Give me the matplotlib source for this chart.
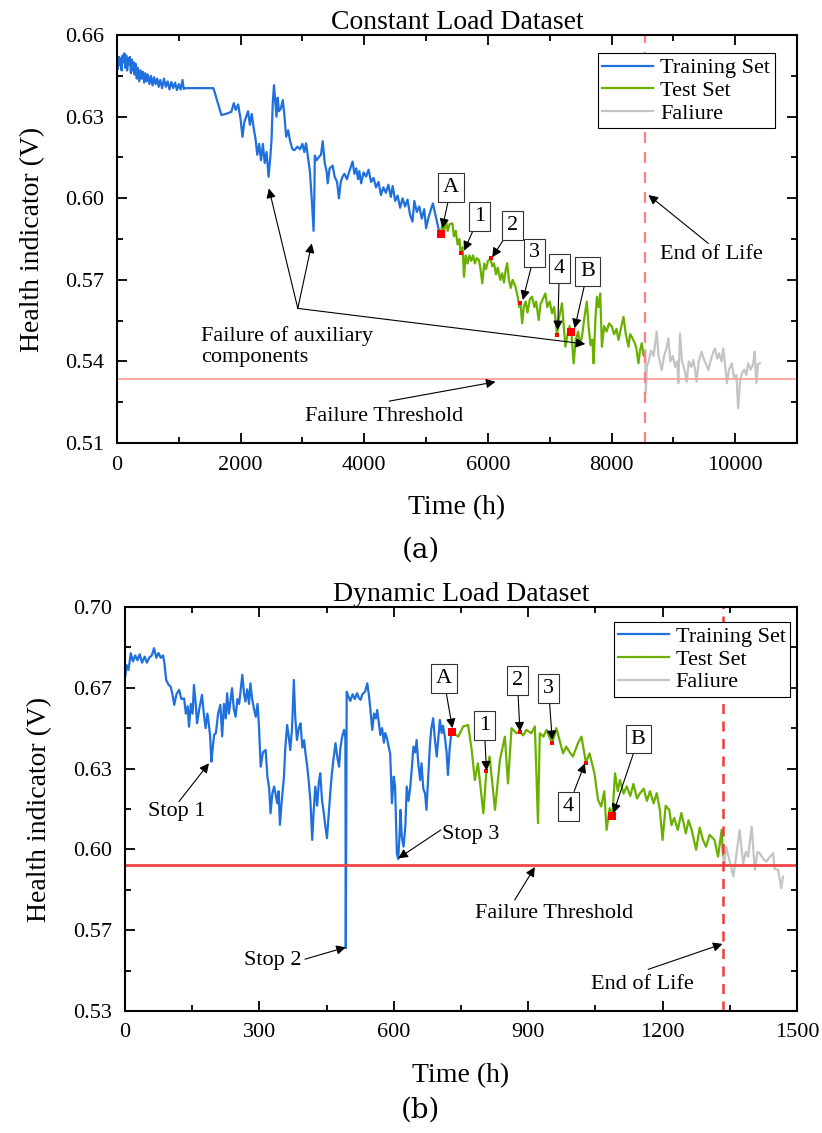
import numpy as np
import matplotlib.pyplot as plt
from matplotlib.ticker import MultipleLocator, FormatStrFormatter

plt.rcParams['font.family'] = ['Liberation Serif', 'DejaVu Serif']

# ---- constant load dataset (time h, health indicator V)
a_train = [(0, .6505), (15, .6475), (30, .6520), (45, .6490), (60, .6515), (75, .6470), (90, .6525),
           (105, .6500), (120, .6533), (135, .6480), (150, .6525), (165, .6470), (180, .6515), (195, .6490),
           (210, .6520), (225, .6460), (240, .6510), (255, .6470), (270, .6500), (285, .6455), (300, .6495),
           (320, .6440), (340, .6480), (360, .6430), (380, .6470), (400, .6440), (420, .6465), (440, .6425),
           (460, .6460), (480, .6430), (500, .6455), (525, .6420), (550, .6450), (575, .6415), (600, .6445),
           (625, .6420), (650, .6440), (675, .6410), (700, .6435), (730, .6405), (760, .6440), (790, .6410),
           (820, .6430), (850, .6400), (880, .6428), (910, .6405), (940, .6425), (970, .6398), (1000, .6420),
           (1030, .6400), (1060, .6435), (1080, .6402), (1100, .6405), (1560, .6405), (1690, .6306),
           (1760, .6310), (1850, .6318), (1890, .6350), (1920, .6325), (1960, .6345), (2000, .6290),
           (2030, .6226), (2060, .6280), (2090, .6300), (2120, .6320), (2150, .6270), (2180, .6310),
           (2210, .6260), (2240, .6220), (2270, .6160), (2300, .6200), (2330, .6140), (2360, .6200),
           (2390, .6130), (2420, .6170), (2452, .6079), (2480, .6150), (2500, .6214), (2520, .6350),
           (2540, .6416), (2560, .6360), (2580, .6300), (2600, .6370), (2620, .6320), (2650, .6330),
           (2683, .6361), (2710, .6300), (2737, .6226), (2770, .6250), (2800, .6210), (2840, .6180),
           (2871, .6177), (2920, .6190), (2960, .6180), (3000, .6200), (3030, .6170), (3059, .6202),
           (3086, .6157), (3120, .6100), (3150, .6000), (3180, .5880), (3192, .6000), (3200, .6157),
           (3230, .6140), (3260, .6150), (3300, .6160), (3328, .6210), (3360, .6130), (3390, .6100),
           (3409, .6055), (3440, .6110), (3489, .6120), (3520, .6080), (3560, .6060), (3590, .6000),
           (3620, .6060), (3650, .6080), (3680, .6090), (3720, .6070), (3760, .6100), (3812, .6135),
           (3840, .6090), (3870, .6110), (3900, .6070), (3920, .6100), (3950, .6055), (3990, .6095),
           (4030, .6080), (4070, .6105), (4110, .6060), (4150, .6075), (4190, .6040), (4230, .6060),
           (4270, .6012), (4310, .6040), (4350, .6020), (4390, .6050), (4430, .6005), (4460, .6045),
           (4500, .5990), (4540, .6010), (4580, .5965), (4620, .6000), (4660, .5970), (4700, .5995),
           (4740, .5940), (4780, .5914), (4810, .5990), (4850, .5950), (4890, .5970), (4930, .5925),
           (4970, .5960), (5000, .5890), (5040, .5930), (5080, .5960), (5110, .5981), (5140, .5950),
           (5170, .5920), (5210, .5880), (5237, .5867)]
a_test = [(5237, .5867), (5260, .5900), (5290, .5875), (5320, .5920), (5350, .5880), (5380, .5905),
          (5425, .5908), (5450, .5860), (5480, .5880), (5510, .5830), (5540, .5850), (5559, .5797),
          (5590, .5820), (5613, .5711), (5640, .5790), (5670, .5760), (5700, .5790), (5730, .5770),
          (5760, .5790), (5790, .5760), (5820, .5780), (5855, .5773), (5880, .5740), (5909, .5687),
          (5940, .5760), (5970, .5740), (6000, .5770), (6043, .5779), (6070, .5750), (6100, .5760),
          (6130, .5720), (6160, .5745), (6200, .5700), (6231, .5724), (6260, .5690), (6290, .5740),
          (6312, .5761), (6340, .5700), (6370, .5670), (6400, .5700), (6446, .5675), (6480, .5640),
          (6510, .5600), (6527, .5614), (6554, .5540), (6580, .5600), (6610, .5620), (6640, .5580),
          (6680, .5630), (6715, .5638), (6750, .5600), (6780, .5620), (6822, .5552), (6850, .5610),
          (6890, .5630), (6930, .5650), (6960, .5600), (7000, .5620), (7037, .5577), (7070, .5600),
          (7100, .5540), (7119, .5497), (7150, .5560), (7199, .5614), (7230, .5520), (7253, .5454),
          (7290, .5500), (7320, .5530), (7349, .5509), (7387, .5393), (7420, .5480), (7460, .5510),
          (7490, .5460), (7521, .5491), (7560, .5560), (7600, .5620), (7629, .5528), (7660, .5460),
          (7690, .5480), (7710, .5393), (7740, .5560), (7763, .5638), (7790, .5600), (7817, .5650),
          (7844, .5454), (7880, .5530), (7920, .5510), (7960, .5540), (8005, .5528), (8040, .5500),
          (8080, .5520), (8113, .5479), (8150, .5520), (8194, .5564), (8230, .5500), (8274, .5454),
          (8300, .5500), (8328, .5490), (8370, .5470), (8400, .5450), (8435, .5393), (8460, .5440),
          (8489, .5467), (8520, .5420), (8545, .5440)]
a_fail = [(8545, .5440), (8555, .5285), (8570, .5380), (8600, .5400), (8640, .5440), (8680, .5420),
          (8731, .5510), (8760, .5420), (8812, .5368), (8850, .5420), (8890, .5450), (8919, .5485),
          (8950, .5400), (8990, .5420), (9030, .5380), (9060, .5400), (9081, .5320), (9108, .5503),
          (9140, .5400), (9180, .5370), (9215, .5325), (9250, .5400), (9290, .5380), (9323, .5405),
          (9350, .5370), (9376, .5325), (9410, .5400), (9457, .5436), (9490, .5410), (9530, .5390),
          (9565, .5368), (9600, .5400), (9640, .5430), (9672, .5448), (9710, .5410), (9740, .5430),
          (9780, .5400), (9806, .5448), (9840, .5380), (9866, .5320), (9900, .5370), (9946, .5393),
          (9980, .5340), (10020, .5350), (10048, .5228), (10080, .5330), (10108, .5356), (10150, .5370),
          (10180, .5350), (10210, .5393), (10250, .5370), (10290, .5390), (10315, .5436), (10342, .5320),
          (10370, .5390), (10398, .5393)]
a_marks = ['A', '1', '2', '3', '4', 'B']
a_mark_t = [5237, 5559, 6043, 6527, 7119, 7349]
a_mark_v = [.5867, .5797, .5779, .5614, .5497, .5509]
a_threshold = 0.5335
a_eol = 8545

# ---- dynamic load dataset
b_train = [(0, .6706), (4, .6760), (8, .6740), (13, .6809), (18, .6775), (23, .6800), (28, .6780),
           (33, .6805), (38, .6770), (44, .6795), (49, .6770), (54, .6790), (60, .6800), (65, .6830),
           (70, .6790), (75, .6810), (80, .6790), (85, .6800), (88, .6770), (92, .6699), (97, .6680),
           (102, .6671), (106, .6640), (110, .6596), (115, .6640), (121, .6658), (126, .6620), (132, .6623),
           (136, .6560), (140, .6590), (143, .6506), (147, .6600), (151, .6560), (154, .6678), (158, .6600),
           (161, .6520), (166, .6580), (172, .6637), (176, .6560), (180, .6500), (184, .6560), (187, .6520),
           (190, .6470), (193, .6362), (196, .6420), (199, .6472), (203, .6480), (208, .6560), (213, .6596),
           (217, .6466), (221, .6600), (225, .6540), (228, .6644), (232, .6560), (236, .6620), (239, .6665),
           (243, .6580), (247, .6547), (251, .6620), (255, .6600), (258, .6650), (262, .6720), (266, .6640),
           (269, .6610), (273, .6660), (277, .6600), (280, .6685), (284, .6620), (288, .6580), (292, .6547),
           (296, .6600), (299, .6513), (303, .6341), (308, .6400), (314, .6410), (318, .6300), (322, .6250),
           (325, .6149), (329, .6230), (333, .6259), (337, .6220), (340, .6190), (343, .6240), (346, .6101),
           (350, .6200), (355, .6300), (358, .6420), (362, .6513), (366, .6460), (369, .6410), (373, .6500),
           (377, .6699), (380, .6550), (384, .6451), (388, .6500), (392, .6520), (396, .6420), (400, .6450),
           (403, .6396), (407, .6340), (410, .6286), (414, .6200), (418, .6039), (421, .6150), (425, .6259),
           (429, .6180), (433, .6280), (436, .6314), (440, .6200), (444, .6149), (447, .6100), (451, .6046),
           (455, .6150), (459, .6250), (462, .6314), (466, .6380), (470, .6438), (474, .6380), (478, .6341),
           (481, .6420), (485, .6466), (489, .6493), (492, .6460), (493, .5592), (495, .6650), (499, .6630),
           (503, .6612), (508, .6640), (513, .6620), (518, .6644), (522, .6625), (526, .6617), (530, .6640),
           (536, .6650), (541, .6685), (545, .6630), (548, .6575), (552, .6493), (556, .6560), (560, .6540),
           (563, .6575), (567, .6520), (570, .6472), (574, .6500), (578, .6440), (581, .6480), (585, .6458),
           (589, .6420), (592, .6396), (596, .6190), (600, .6300), (603, .6259), (607, .5984), (610, .5960),
           (613, .6060), (615, .6163), (618, .6050), (622, .6011), (626, .6100), (629, .6259), (633, .6200),
           (637, .6259), (641, .6350), (644, .6424), (648, .6400), (651, .6451), (655, .6350), (659, .6286),
           (662, .6355), (666, .6250), (670, .6230), (673, .6163), (677, .6300), (681, .6437), (684, .6500),
           (688, .6541), (692, .6450), (696, .6383), (699, .6450), (703, .6534), (707, .6480), (710, .6510),
           (714, .6465), (718, .6400), (721, .6307), (725, .6420), (729, .6486)]
b_test = [(729, .6486), (744, .6465), (755, .6507), (766, .6513), (774, .6410), (781, .6286), (788, .6355),
          (800, .6149), (807, .6325), (814, .6383), (826, .6163), (837, .6369), (848, .6465), (855, .6272),
          (863, .6500), (874, .6479), (881, .6486), (889, .6470), (896, .6493), (907, .6479), (915, .6507),
          (922, .6108), (926, .6479), (934, .6465), (941, .6493), (948, .6460), (954, .6440), (963, .6500),
          (970, .6451), (978, .6396), (985, .6424), (993, .6400), (1000, .6383), (1011, .6437), (1019, .6465),
          (1029, .6358), (1037, .6396), (1048, .6314), (1056, .6204), (1063, .6177), (1070, .6240),
          (1075, .6080), (1082, .6170), (1088, .6138), (1094, .6314), (1100, .6240), (1105, .6286),
          (1113, .6230), (1120, .6260), (1128, .6220), (1135, .6270), (1143, .6210), (1150, .6232),
          (1158, .6250), (1165, .6200), (1172, .6240), (1180, .6190), (1187, .6232), (1194, .6163),
          (1200, .6039), (1207, .6180), (1215, .6163), (1220, .6100), (1226, .6130), (1234, .6080),
          (1242, .6150), (1252, .6066), (1258, .6120), (1265, .6080), (1275, .5998), (1283, .6090),
          (1290, .6040), (1297, .6011), (1305, .6060), (1316, .6039), (1324, .5970), (1332, .6081),
          (1335, .5970)]
b_fail = [(1335, .5970), (1338, .5943), (1342, .6011), (1350, .5950), (1358, .5888), (1365, .5980),
          (1372, .6080), (1380, .5943), (1386, .5990), (1391, .5970), (1399, .6094), (1406, .5915),
          (1412, .5990), (1417, .5984), (1425, .5960), (1432, .5950), (1440, .5970), (1447, .5984),
          (1450, .5920), (1458, .5915), (1465, .5840), (1469, .5888)]
b_marks = ['A', '1', '2', '3', '4', 'B']
b_mark_t = [729, 807, 881, 954, 1029, 1088]
b_mark_v = [.6486, .6325, .6486, .6440, .6358, .6138]
b_threshold = 0.5937
b_eol = 1334

c_train, c_test, c_fail = '#1f70dc', '#69b000', '#c4c4c4'

fig = plt.figure(figsize=(8.22, 11.33), dpi=100)
ax1 = fig.add_axes([0.1423, 0.609, 0.8273, 0.360])
ax2 = fig.add_axes([0.152, 0.1077, 0.8175, 0.3566])


def style(ax):
    ax.tick_params(which='both', direction='in', top=True, right=True, labelsize=16, width=1.3, pad=9)
    ax.tick_params(which='major', length=7)
    ax.tick_params(which='minor', length=4)
    for s in ax.spines.values():
        s.set_linewidth(1.5)


arrow = dict(arrowstyle='-|>', color='k', lw=0.8, mutation_scale=14, shrinkA=0, shrinkB=0)
box = dict(boxstyle='square,pad=0.22', fc='white', ec='#333333', lw=0.8)


def label_box(ax, txt, tip, pos):
    ax.annotate(txt, xy=tip, xytext=pos, ha='center', va='center', fontsize=16,
                bbox=box, arrowprops=arrow, zorder=6)


def mark(ax, names, t, v):
    big = np.array([m in ('A', 'B') for m in names])
    t, v = np.array(t), np.array(v)
    ax.scatter(t[big], v[big], marker='s', s=28, color='red', zorder=5, lw=0)
    ax.scatter(t[~big], v[~big], marker='s', s=10, color='red', zorder=5, lw=0)


def legend(ax, anchor):
    leg = ax.legend(loc='upper right', bbox_to_anchor=anchor, fontsize=16, fancybox=False,
                    edgecolor='k', framealpha=1, borderaxespad=0, handlelength=2.3, handletextpad=0.3,
                    borderpad=0.2, labelspacing=0.1)
    leg.get_frame().set_linewidth(0.8)


# ---------------- panel (a)
for data, c, lab in [(a_train, c_train, 'Training Set'), (a_test, c_test, 'Test Set'),
                     (a_fail, c_fail, 'Faliure')]:
    t, v = np.array(data).T
    ax1.plot(t, v, color=c, lw=1.6, label=lab)
ax1.axhline(a_threshold, color='#ff9a9a', lw=1.2)
ax1.axvline(a_eol, color='#ff8080', lw=1.6, ls=(0, (5, 4)))
mark(ax1, a_marks, a_mark_t, a_mark_v)

label_box(ax1, 'A', (5263, 0.5890), (5403, 0.6039))
label_box(ax1, '1', (5613, 0.5807), (5863, 0.5933))
label_box(ax1, '2', (6070, 0.5783), (6398, 0.5900))
label_box(ax1, '3', (6565, 0.5626), (6758, 0.5799))
label_box(ax1, '4', (7129, 0.5515), (7156, 0.5743))
label_box(ax1, 'B', (7403, 0.5522), (7613, 0.5731))

hub = (2925, 0.5595)
for tip in [(2457, 0.6036), (3151, 0.5834), (7575, 0.5464)]:
    ax1.annotate('', xy=tip, xytext=hub, arrowprops=arrow)
ax1.text(1366, 0.5455, 'Failure of auxiliary\ncomponents', fontsize=16, ha='left', va='center',
         linespacing=1.15)
ax1.annotate('', xy=(6124, 0.5325), xytext=(4403, 0.5254), arrowprops=arrow)
ax1.text(4323, 0.5197, 'Failure Threshold', fontsize=16, ha='center', va='center')
ax1.annotate('', xy=(8597, 0.6012), xytext=(9565, 0.5834), arrowprops=arrow)
ax1.text(9618, 0.5795, 'End of Life', fontsize=16, ha='center', va='center')

ax1.set_xlim(0, 11000)
ax1.set_ylim(0.51, 0.66)
ax1.xaxis.set_major_locator(MultipleLocator(2000))
ax1.xaxis.set_minor_locator(MultipleLocator(1000))
ax1.yaxis.set_major_locator(MultipleLocator(0.03))
ax1.yaxis.set_minor_locator(MultipleLocator(0.015))
ax1.yaxis.set_major_formatter(FormatStrFormatter('%.2f'))
style(ax1)
ax1.set_title('Constant Load Dataset', fontsize=20, pad=4)
ax1.set_xlabel('Time (h)', fontsize=20, labelpad=15)
ax1.set_ylabel('Health indicator (V)', fontsize=20, labelpad=15)
legend(ax1, (0.967, 0.955))

# ---------------- panel (b)
for data, c, lab in [(b_train, c_train, 'Training Set'), (b_test, c_test, 'Test Set'),
                     (b_fail, c_fail, 'Faliure')]:
    t, v = np.array(data).T
    ax2.plot(t, v, color=c, lw=1.6, label=lab)
ax2.axhline(b_threshold, color='#f04545', lw=2)
ax2.axvline(b_eol, color='#f03a3a', lw=1.8, ls=(0, (4, 3)))
mark(ax2, b_marks, b_mark_t, b_mark_v)

label_box(ax2, 'A', (731, 0.6500), (711.6, 0.6704))
label_box(ax2, '1', (807, 0.6325), (802, 0.6510))
label_box(ax2, '2', (881.7, 0.6486), (876, 0.6697))
label_box(ax2, '3', (953.8, 0.6451), (945.5, 0.6665))
label_box(ax2, '4', (1026.8, 0.6355), (989.9, 0.6178))
label_box(ax2, 'B', (1090, 0.6149), (1145.8, 0.6455))

ax2.annotate('', xy=(187.5, 0.6355), xytext=(120.5, 0.6197), arrowprops=arrow)
ax2.text(116.7, 0.6158, 'Stop 1', fontsize=16, ha='center', va='center')
ax2.annotate('', xy=(493, 0.5596), xytext=(401.8, 0.5547), arrowprops=arrow)
ax2.text(329, 0.5540, 'Stop 2', fontsize=16, ha='center', va='center')
ax2.annotate('', xy=(610, 0.5963), xytext=(705, 0.6080), arrowprops=arrow)
ax2.text(771.9, 0.6063, 'Stop 3', fontsize=16, ha='center', va='center')
ax2.annotate('', xy=(915, 0.5927), xytext=(870, 0.5791), arrowprops=arrow)
ax2.text(957.6, 0.5734, 'Failure Threshold', fontsize=16, ha='center', va='center')
ax2.annotate('', xy=(1334, 0.5610), xytext=(1168, 0.5505), arrowprops=arrow)
ax2.text(1156, 0.5443, 'End of Life', fontsize=16, ha='center', va='center')

ax2.set_xlim(0, 1500)
ax2.set_ylim(0.70 - 5 / 30, 0.70)
ax2.xaxis.set_major_locator(MultipleLocator(300))
ax2.xaxis.set_minor_locator(MultipleLocator(150))
ax2.set_yticks([0.70 - k / 30 for k in range(6)])
ax2.set_yticks([0.70 - (k + 0.5) / 30 for k in range(5)], minor=True)
ax2.yaxis.set_major_formatter(FormatStrFormatter('%.2f'))
style(ax2)
ax2.set_title('Dynamic Load Dataset', fontsize=20, pad=4)
ax2.set_xlabel('Time (h)', fontsize=20, labelpad=15)
ax2.set_ylabel('Health indicator (V)', fontsize=20, labelpad=15)
legend(ax2, (0.99, 0.963))

fig.text(0.512, 1 - 550 / 1133, '(a)', ha='center', va='center', fontsize=20, family='DejaVu Serif')
fig.text(0.512, 1 - 1110 / 1133, '(b)', ha='center', va='center', fontsize=20, family='DejaVu Serif')

fig.savefig('out.png', dpi=100)
